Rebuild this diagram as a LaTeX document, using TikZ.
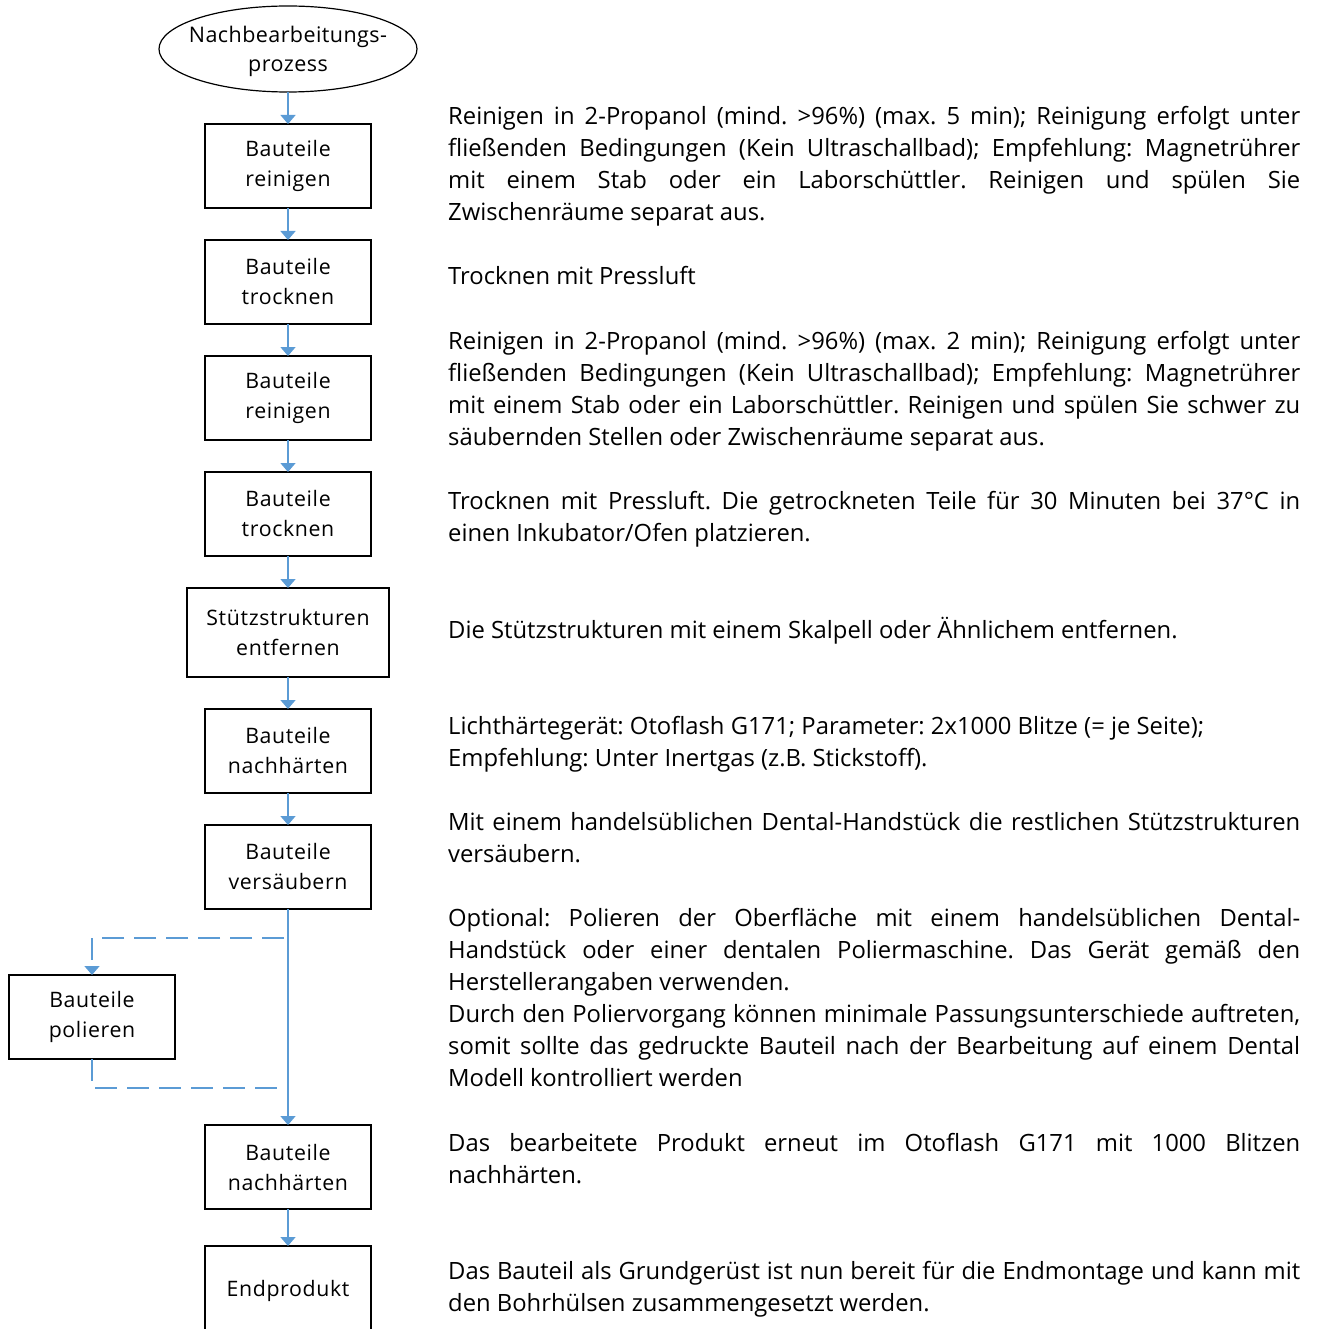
\documentclass[tikz,border=0pt]{standalone}
\usepackage{fontspec}
\setmainfont{Open Sans}
\usetikzlibrary{arrows.meta, positioning, shapes.geometric}
\definecolor{flowblue}{RGB}{91,155,213}

\begin{document}
\frenchspacing
\begin{tikzpicture}[
    x=1pt, y=-1pt,
    node distance=32pt,
    >={Triangle[width=15pt,length=9pt]},
    every node/.style={font=\fontsize{21}{30}\selectfont},
    stepbox/.style={rectangle, draw, line width=1.2pt, align=center, minimum width=166pt, minimum height=84pt, inner sep=0pt, outer sep=0pt, font=\fontsize{21.3}{30}\selectfont\addfontfeature{LetterSpace=3}},
    startnode/.style={ellipse, draw, line width=1.2pt, minimum width=258pt, minimum height=86pt, inner sep=0pt, outer sep=0pt},
    flow/.style={draw=flowblue, line width=1.5pt},
    dashflow/.style={flow, dash pattern=on 22pt off 10pt},
    note/.style={anchor=base west, text width=852pt, align=justify, inner sep=0pt, font=\fontsize{23.8}{32}\selectfont}
  ]
  \useasboundingbox (0,0) rectangle (1317,1329);

  \node[startnode, label={[align=center, yshift=-2pt, font=\fontsize{21.5}{29}\selectfont\addfontfeature{LetterSpace=2}]center:Nachbearbeitungs-\\prozess}] (start) at (288,49) {};
  \node[stepbox, below=of start] (reinigenA) {Bauteile\\reinigen};
  \node[stepbox, below=of reinigenA] (trocknenA) {Bauteile\\trocknen};
  \node[stepbox, below=of trocknenA] (reinigenB) {Bauteile\\reinigen};
  \node[stepbox, below=of reinigenB] (trocknenB) {Bauteile\\trocknen};
  \node[stepbox, below=of trocknenB, minimum width=202pt, minimum height=89pt] (stuetzen) {Stützstrukturen\\entfernen};
  \node[stepbox, below=of stuetzen] (haertenA) {Bauteile\\nachhärten};
  \node[stepbox, below=of haertenA] (versaeubern) {Bauteile\\versäubern};
  \node[stepbox, below=216pt of versaeubern] (haertenB) {Bauteile\\nachhärten};
  \node[stepbox, below=37pt of haertenB, minimum height=90pt] (ende) {Endprodukt};
  \node[stepbox] (polieren) at (92,1017) {Bauteile\\polieren};

  \draw[flow, ->] (start) -- (reinigenA);
  \draw[flow, ->] (reinigenA) -- (trocknenA);
  \draw[flow, ->] (trocknenA) -- (reinigenB);
  \draw[flow, ->] (reinigenB) -- (trocknenB);
  \draw[flow, ->] (trocknenB) -- (stuetzen);
  \draw[flow, ->] (stuetzen) -- (haertenA);
  \draw[flow, ->] (haertenA) -- (versaeubern);
  \draw[flow, ->] (versaeubern) -- (haertenB);
  \draw[flow, ->] (haertenB) -- (ende);

  \coordinate (forkA) at (284,938);
  \coordinate (forkB) at (284,1088);
  \draw[dashflow, ->] (forkA) -| (polieren.north);
  \draw[dashflow] (polieren.south) |- (forkB);

  \node[note] (txtreinigenA) at (448,125) {Reinigen in 2-Propanol (mind. >96\%) (max. 5 min); Reinigung erfolgt unter\linebreak fließenden Bedingungen (Kein Ultraschallbad); Empfehlung: Magnetrührer\linebreak mit einem Stab oder ein Laborschüttler. Reinigen und spülen Sie\linebreak Zwischenräume separat aus.};
  \node[note] (txttrocknenA) at (448,285) {Trocknen mit Pressluft};
  \node[note] (txtreinigenB) at (448,349) {Reinigen in 2-Propanol (mind. >96\%) (max. 2 min); Reinigung erfolgt unter\linebreak fließenden Bedingungen (Kein Ultraschallbad); Empfehlung: Magnetrührer\linebreak mit einem Stab oder ein Laborschüttler. Reinigen und spülen Sie schwer zu\linebreak säubernden Stellen oder Zwischenräume separat aus.};
  \node[note] (txttrocknenB) at (448,509) {Trocknen mit Pressluft. Die getrockneten Teile für 30 Minuten bei 37°C in\linebreak einen Inkubator/Ofen platzieren.};
  \node[note] (txtstuetzen) at (448,638) {Die Stützstrukturen mit einem Skalpell oder Ähnlichem entfernen.};
  \node[note] (txthaertenA) at (448,734) {Lichthärtegerät: Otoflash G171; Parameter: 2x1000 Blitze (= je Seite);\\Empfehlung: Unter Inertgas (z.B. Stickstoff).};
  \node[note] (txtversaeubern) at (448,830) {Mit einem handelsüblichen Dental-Handstück die restlichen Stützstrukturen\linebreak versäubern.};
  \node[note] (txtpolieren) at (448,926) {Optional: Polieren der Oberfläche mit einem handelsüblichen Dental-\linebreak Handstück oder einer dentalen Poliermaschine. Das Gerät gemäß den\linebreak Herstellerangaben verwenden.\par Durch den Poliervorgang können minimale Passungsunterschiede auftreten,\linebreak somit sollte das gedruckte Bauteil nach der Bearbeitung auf einem Dental\linebreak Modell kontrolliert werden};
  \node[note] (txthaertenB) at (448,1151) {Das bearbeitete Produkt erneut im Otoflash G171 mit 1000 Blitzen\linebreak nachhärten.};
  \node[note] (txtende) at (448,1279) {Das Bauteil als Grundgerüst ist nun bereit für die Endmontage und kann mit\linebreak den Bohrhülsen zusammengesetzt werden.};

\end{tikzpicture}
\end{document}
